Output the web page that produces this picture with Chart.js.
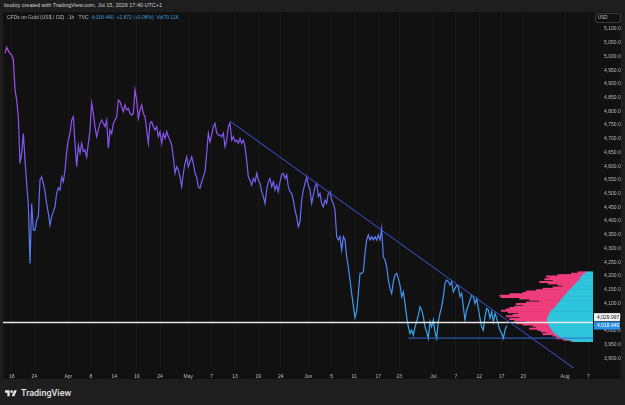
<!DOCTYPE html>
<html>
<head>
<meta charset="utf-8">
<script src="https://cdn.jsdelivr.net/npm/chart.js@4.4.1/dist/chart.umd.min.js"></script>
<style>
  html, body { margin: 0; padding: 0; width: 625px; height: 405px; overflow: hidden; background: #1e1e1e; font-family: "Liberation Sans", Arial, sans-serif; }
  #credit { position: absolute; left: 4px; top: 2px; font-size: 5.5px; line-height: 7px; color: #d2d2d2; white-space: nowrap; }
  #panel { position: absolute; left: 3px; top: 12px; width: 618px; height: 367px; background: #111111; }
  #chart { position: absolute; left: 0; top: 0; }
  #symbol { position: absolute; left: 4px; top: 2px; font-size: 5px; line-height: 6px; color: #bfbfbf; white-space: pre; z-index: 2; }
  #symbol .v { color: #3f9be0; }
  #usd { position: absolute; left: 592px; top: 1px; width: 22px; height: 8px; border: 1px solid #3a3a3a; border-radius: 2px; font-size: 4.5px; line-height: 8px; color: #c8c8c8; padding-left: 2px; z-index: 2; }
  #footer { position: absolute; left: 5px; top: 388px; display: flex; align-items: center; color: #e6e6e6; font-family: Roboto, "Liberation Sans", sans-serif; font-size: 9px; font-weight: 500; }
  #footer svg { margin-right: 4px; }
</style>
</head>
<body>
<div id="credit">loudoy created with TradingView.com, Jul 15, 2026 17:40 UTC+1</div>
<div id="panel">
  <canvas id="chart" width="618" height="367"></canvas>
  <div id="symbol">CFDs on Gold (US$ / OZ) · 1h · TVC  <span class="v">4,018.440  +2.872 (+0.08%)</span>  <span class="v">Vol70.11K</span></div>
  <div id="usd">USD</div>
</div>
<div id="footer">
  <svg width="12" height="8" viewBox="0 0 36 24"><path d="M14 22H7V11H0V4h14v18zM28 22h-8l7.5-18h8L28 22z" fill="#e6e6e6"/><circle cx="20" cy="8" r="4" fill="#e6e6e6"/></svg>
  TradingView
</div>
<script>
// hourly closes, sampled evenly from mid-March to mid-July
const priceSeries = [
  5011, 5033, 5021, 5011, 5005, 4989, 4880, 4841, 4780, 4610,
  4647, 4719, 4622, 4537, 4458, 4245, 4464, 4367, 4367, 4403,
  4416, 4549, 4561, 4537, 4507, 4464, 4428, 4385, 4416, 4434,
  4452, 4501, 4521, 4513, 4561, 4543, 4586, 4653, 4695, 4719,
  4768, 4780, 4683, 4598, 4677, 4647, 4683, 4653, 4659, 4634,
  4683, 4732, 4829, 4792, 4744, 4707, 4732, 4756, 4768, 4756,
  4744, 4768, 4665, 4732, 4719, 4756, 4768, 4780, 4841, 4835,
  4817, 4798, 4823, 4805, 4811, 4792, 4786, 4792, 4878, 4841,
  4774, 4805, 4823, 4792, 4780, 4732, 4683, 4756, 4762, 4744,
  4732, 4744, 4707, 4726, 4683, 4719, 4701, 4726, 4707, 4695,
  4677, 4634, 4574, 4598, 4586, 4561, 4525, 4574, 4610, 4634,
  4598, 4616, 4634, 4610, 4574, 4561, 4525,
  4519, 4543, 4561, 4580, 4647, 4720, 4689, 4713, 4744, 4756,
  4722, 4713, 4713, 4707, 4720, 4671, 4695, 4744, 4758, 4695,
  4707, 4689, 4695, 4683, 4701, 4683, 4695, 4671, 4622, 4561,
  4549, 4531, 4555, 4543, 4574, 4549, 4537, 4507, 4489, 4464,
  4513, 4543, 4555, 4525, 4543, 4513, 4531, 4507, 4543, 4568,
  4574, 4555, 4568, 4525, 4507, 4501, 4476, 4440, 4416, 4379,
  4397, 4476, 4513, 4537, 4561, 4531, 4513, 4464, 4495, 4525,
  4537, 4489, 4501, 4464, 4452, 4476, 4464, 4501, 4507, 4476,
  4464, 4440, 4343, 4331, 4343, 4294, 4343, 4331, 4270, 4233,
  4185, 4136, 4090, 4048, 4070, 4136, 4209, 4209, 4215, 4282,
  4331, 4349, 4331, 4343, 4331, 4343, 4331, 4349, 4331, 4373,
  4270,
  4258, 4233, 4185, 4154, 4136, 4179, 4203, 4209, 4191, 4166,
  4124, 4142, 4099, 4051, 4014, 3990, 4002, 3984, 4014, 4033,
  4057, 4087, 4075, 4051, 4014, 3996, 3972, 4033, 4014, 4039,
  3996, 3972, 4033, 4063, 4087, 4124, 4172, 4185, 4179, 4166,
  4179, 4142, 4154, 4166, 4160, 4124, 4136, 4087, 4039, 4075,
  4093, 4112, 4130, 4124, 4099, 4118, 4081, 4045, 4014, 4002,
  4051, 4081, 4075, 4045, 4069, 4033, 4063, 4045, 4021, 4002,
  3990, 3972, 4002, 4018.44
];

// time axis labels and the sample index they fall on
const tickText = ['18', '24', 'Apr', '8', '14', '19', '24', 'May', '7', '13', '19', '24',
                  'Jun', '5', '11', '17', '23', 'Jul', '7', '12', '17', '23', 'Aug', '7'];
const tickIdx = [4, 17.5, 38, 51.5, 65.5, 79, 93, 110, 124, 138, 152, 165.5,
                 182, 196, 209.5, 224, 236.5, 257, 270.5, 284.5, 298, 311, 336, 350];
const priceTicks = [3900, 3950, 4000, 4050, 4100, 4150, 4200, 4250, 4300, 4350, 4400, 4450,
                    4500, 4550, 4600, 4650, 4700, 4750, 4800, 4850, 4900, 4950, 5000, 5050, 5100];

// drawings
const trendLine = [[135, 4764], [342, 3860]];
const supportLine = [[242, 3973], [353, 3973]];
const levelPrice = 4029.997;
const lastPrice = 4018.44;

// visible range volume profile (row price, up volume, down volume)
const profilePrices = [4212.5, 4207.5, 4202.5, 4197.5, 4192.5, 4187.5, 4182.5, 4177.5, 4172.5, 4167.5,
  4162.5, 4157.5, 4152.5, 4147.5, 4142.5, 4137.5, 4132.5, 4127.5, 4122.5, 4117.5,
  4112.5, 4107.5, 4102.5, 4097.5, 4092.5, 4087.5, 4082.5, 4077.5, 4072.5, 4067.5,
  4062.5, 4057.5, 4052.5, 4047.5, 4042.5, 4037.5, 4032.5, 4027.5, 4022.5, 4017.5,
  4012.5, 4007.5, 4002.5, 3997.5, 3992.5, 3987.5, 3982.5, 3977.5, 3972.5, 3967.5, 3962.5];
const volUp = [67, 83, 100, 117, 123, 133, 140, 150, 167, 183,
  193, 207, 217, 233, 250, 260, 267, 283, 293, 307,
  317, 327, 340, 350, 360, 373, 383, 400, 417, 427,
  433, 440, 450, 450, 457, 457, 450, 450, 440, 433,
  427, 417, 407, 400, 383, 367, 350, 327, 300, 260, 200];
const volDown = [83, 134, 250, 350, 310, 350, 260, 383, 283, 167,
  107, 193, 283, 334, 417, 440, 566, 650, 624, 426,
  316, 206, 327, 417, 340, 410, 450, 467, 500, 423,
  317, 360, 417, 283, 376, 326, 217, 317, 260, 167,
  140, 216, 143, 117, 84, 133, 50, 40, 60, 40, 20];

const fmt = v => v.toLocaleString('en-US', { minimumFractionDigits: 3, maximumFractionDigits: 3 });
const FONT = 'Liberation Sans';

function lineGradient(ctx) {
  const chart = ctx.chart;
  if (!chart.chartArea) return '#7b5cf0';
  const y = chart.scales.y;
  const g = chart.ctx.createLinearGradient(0, y.getPixelForValue(5050), 0, y.getPixelForValue(3950));
  g.addColorStop(0, '#b84be6');
  g.addColorStop(0.27, '#8c52f2');
  g.addColorStop(0.55, '#6a6af2');
  g.addColorStop(0.82, '#3f95f2');
  g.addColorStop(1, '#33b0f0');
  return g;
}

// price scale badges for the level line and the last price
const badges = {
  id: 'badges',
  afterDraw(chart) {
    const { ctx, chartArea, scales } = chart;
    const x0 = chartArea.right + 1;
    const w = 26, h = 8;
    const yLast = scales.y.getPixelForValue(lastPrice);
    const yLevel = yLast - h - 0.5;
    ctx.save();
    ctx.font = '5px ' + FONT;
    ctx.textBaseline = 'middle';
    ctx.fillStyle = '#f2f2f2';
    ctx.fillRect(x0, yLevel - h / 2, w, h);
    ctx.fillStyle = '#111111';
    ctx.fillText(fmt(levelPrice), x0 + 3, yLevel);
    ctx.fillStyle = '#2a8fe0';
    ctx.fillRect(x0, yLast - h / 2, w, h);
    ctx.fillStyle = '#ffffff';
    ctx.fillText(fmt(lastPrice), x0 + 3, yLast);
    ctx.restore();
  }
};

const pts = arr => arr.map(p => ({ x: p[0], y: p[1] }));

new Chart(document.getElementById('chart'), {
  type: 'line',
  data: {
    datasets: [
      {
        data: priceSeries.map((v, i) => ({ x: i, y: v })),
        borderColor: lineGradient,
        borderWidth: 1.2,
        pointRadius: 0,
        tension: 0,
        order: 1
      },
      {
        data: pts(trendLine),
        borderColor: '#3a58dc',
        borderWidth: 1,
        pointRadius: 0,
        order: 0
      },
      {
        data: pts(supportLine),
        borderColor: '#2f6ad8',
        borderWidth: 1,
        pointRadius: 0,
        order: 0
      },
      {
        data: [{ x: -1.2, y: levelPrice }, { x: 353, y: levelPrice }],
        borderColor: '#e8e8e8',
        borderWidth: 1.4,
        pointRadius: 0,
        order: 0
      },
      {
        type: 'bar',
        indexAxis: 'y',
        xAxisID: 'xv',
        grouped: false,
        data: profilePrices.map((p, k) => ({ y: p, x: [0, volUp[k]] })),
        backgroundColor: '#2ec4dc',
        borderWidth: 0,
        barPercentage: 1,
        categoryPercentage: 1,
        order: 5
      },
      {
        type: 'bar',
        indexAxis: 'y',
        xAxisID: 'xv',
        grouped: false,
        data: profilePrices.map((p, k) => ({ y: p, x: [volUp[k], volUp[k] + volDown[k]] })),
        backgroundColor: '#ee3d7c',
        borderWidth: 0,
        barPercentage: 1,
        categoryPercentage: 1,
        order: 5
      }
    ]
  },
  options: {
    responsive: false,
    animation: false,
    events: [],
    layout: { padding: 0, autoPadding: false },
    plugins: { legend: { display: false }, tooltip: { enabled: false } },
    scales: {
      x: {
        type: 'linear',
        min: -1.2,
        max: 352.8,
        offset: false,
        afterBuildTicks: s => { s.ticks = tickIdx.map(v => ({ value: v })); },
        afterFit: s => { s.height = 11; s.paddingLeft = 0; s.paddingRight = 0; },
        border: { display: false },
        grid: { color: 'rgba(255,255,255,0.035)', drawTicks: false, offset: false },
        ticks: {
          autoSkip: false,
          maxRotation: 0,
          padding: 6,
          color: '#bdbdbd',
          font: { family: FONT, size: 5 },
          callback: (v, i) => tickText[i]
        }
      },
      y: {
        type: 'linear',
        position: 'right',
        min: 3864,
        max: 5162,
        offset: false,
        afterBuildTicks: s => { s.ticks = priceTicks.map(v => ({ value: v })); },
        afterFit: s => { s.width = 28; s.paddingTop = 0; s.paddingBottom = 0; },
        border: { display: false },
        grid: { display: false, offset: false },
        ticks: {
          padding: 3,
          color: '#bdbdbd',
          font: { family: FONT, size: 5 },
          callback: v => fmt(v)
        }
      },
      xv: {
        type: 'linear',
        reverse: true,
        min: 0,
        max: 5900,
        offset: false,
        display: false
      }
    }
  },
  plugins: [badges]
});
</script>
</body>
</html>
